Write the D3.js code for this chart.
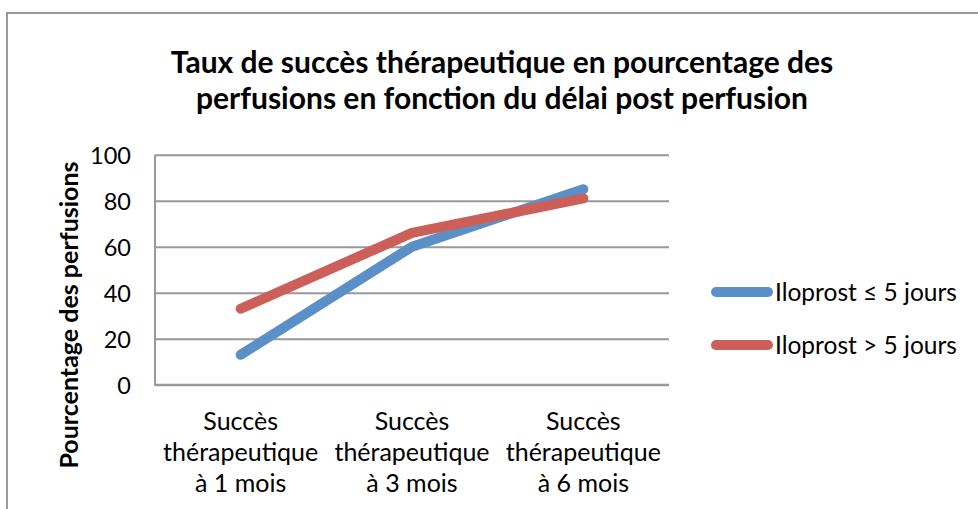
<!DOCTYPE html>
<html><head><meta charset="utf-8">
<script src="https://cdn.jsdelivr.net/npm/d3@7"></script>
<style>body{margin:0;background:#fff;}svg{display:block;}</style>
</head><body>
<script>
const categories = [["Succès","thérapeutique","à 1 mois"],["Succès","thérapeutique","à 3 mois"],["Succès","thérapeutique","à 6 mois"]];
const seriesNames = ["Iloprost ≤ 5 jours","Iloprost > 5 jours"];
const seriesShort = [13, 60, 85];
const seriesLong = [33, 66, 81];
const yTicks = [0,20,40,60,80,100];
const colors = ["#5b8fc8","#cc5f58"];
const titleLines = ["Taux de succès thérapeutique en pourcentage des","perfusions en fonction du délai post perfusion"];
const yTitle = "Pourcentage des perfusions";

const W=978,H=509;
const font="Lato, 'Open Sans', sans-serif";
const svg=d3.select("body").append("svg").attr("width",W).attr("height",H);
svg.append("rect").attr("width",W).attr("height",H).attr("fill","#fff");
svg.append("path").attr("d",`M7,${H+5}V13H${W+5}`).attr("fill","none").attr("stroke","#9a9a9a").attr("stroke-width",2);

const m={l:155,r:669,t:154.7,b:384.7};
const x=d3.scaleBand().domain(d3.range(categories.length)).range([m.l,m.r]);
const y=d3.scaleLinear().domain([0,100]).range([m.b,m.t]);

svg.append("text").attr("x",502).attr("y",73).attr("text-anchor","middle")
  .attr("font-family",font).attr("font-weight","bold").attr("font-size",30).attr("fill","#000")
  .selectAll("tspan").data(titleLines).join("tspan").attr("x",502).attr("dy",(d,i)=>i?36:0).text(d=>d);

const yAxis=d3.axisLeft(y).tickValues(yTicks).tickSize(-(m.r-m.l)).tickPadding(24).tickFormat(d3.format("d"));
const ga=svg.append("g").attr("transform",`translate(${m.l},0)`).call(yAxis);
ga.select(".domain").remove();
ga.selectAll(".tick line").attr("stroke","#999").attr("stroke-width",2);
ga.selectAll(".tick text").attr("font-family",font).attr("font-size",23.5).attr("fill","#000").attr("dy","0.36em");
svg.append("line").attr("x1",m.l).attr("x2",m.l).attr("y1",m.t).attr("y2",m.b).attr("stroke","#999").attr("stroke-width",2);
svg.append("line").attr("x1",m.l-1).attr("x2",m.r).attr("y1",m.b).attr("y2",m.b).attr("stroke","#999").attr("stroke-width",2);

const xl=svg.append("g");
categories.forEach((c,i)=>{
  const t=xl.append("text").attr("text-anchor","middle").attr("font-family",font).attr("font-size",25).attr("fill","#000");
  c.forEach((s,j)=>t.append("tspan").attr("x",x(i)+x.bandwidth()/2).attr("y",430+j*31).text(s));
});

svg.append("text").attr("transform",`translate(78,${315}) rotate(-90)`).attr("text-anchor","middle")
  .attr("font-family",font).attr("font-weight","bold").attr("font-size",25).attr("fill","#000").text(yTitle);

const line=d3.line().x((d,i)=>x(i)+x.bandwidth()/2).y(d=>y(d));
[seriesShort,seriesLong].forEach((s,k)=>{
  svg.append("path").attr("d",line(s)).attr("fill","none").attr("stroke",colors[k]).attr("stroke-width",10)
    .attr("stroke-linecap","round").attr("stroke-linejoin","round");
});

seriesNames.forEach((n,k)=>{
  const ly=292+k*53;
  svg.append("line").attr("x1",716).attr("x2",768).attr("y1",ly).attr("y2",ly).attr("stroke",colors[k]).attr("stroke-width",10).attr("stroke-linecap","round");
  svg.append("text").attr("x",775).attr("y",ly).attr("dy","0.36em").attr("font-family",font).attr("font-size",24.5).attr("fill","#000").text(n);
});
</script>
</body></html>
